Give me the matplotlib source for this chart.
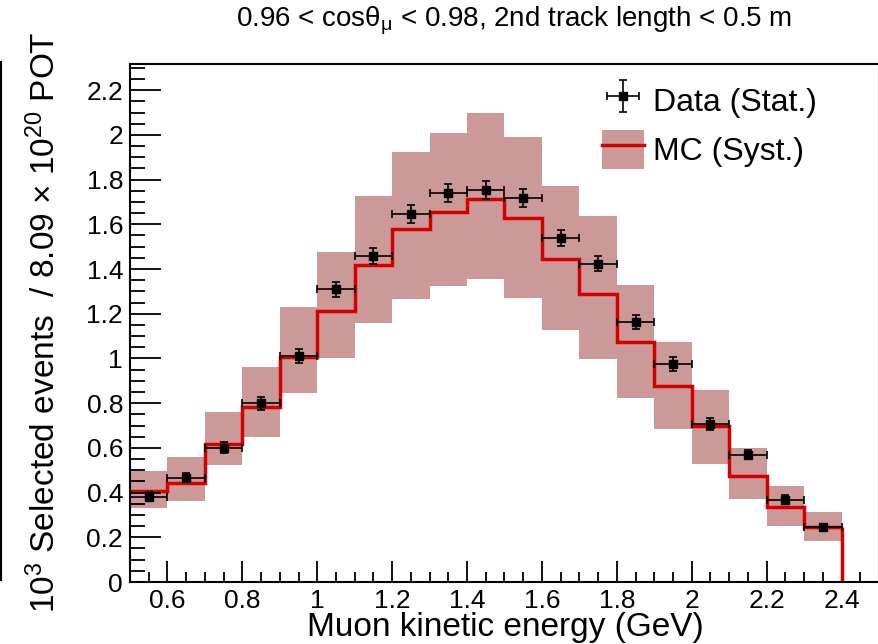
import numpy as np
import matplotlib.pyplot as plt
from matplotlib.ticker import MultipleLocator
from matplotlib.patches import Patch
from matplotlib.lines import Line2D

plt.rcParams['font.family'] = ['Liberation Sans', 'DejaVu Sans']
plt.rcParams['mathtext.fontset'] = 'custom'
plt.rcParams['mathtext.rm'] = 'Liberation Sans'
plt.rcParams['mathtext.it'] = 'Liberation Sans:italic'

# bin edges of muon kinetic energy (GeV)
edges = [0.5, 0.6, 0.7, 0.8, 0.9, 1.0, 1.1, 1.2, 1.3, 1.4, 1.5,
         1.6, 1.7, 1.8, 1.9, 2.0, 2.1, 2.2, 2.3, 2.4]

# MC prediction and systematic band
mc = [0.407, 0.444, 0.617, 0.783, 1.005, 1.21, 1.417, 1.579, 1.653, 1.713,
      1.627, 1.445, 1.290, 1.074, 0.878, 0.699, 0.475, 0.337, 0.247]
mc_hi = [0.498, 0.559, 0.759, 0.962, 1.228, 1.476, 1.726, 1.923, 2.007, 2.096,
         1.989, 1.772, 1.638, 1.327, 1.072, 0.857, 0.599, 0.431, 0.314]
mc_lo = [0.332, 0.361, 0.525, 0.647, 0.844, 1.000, 1.160, 1.268, 1.324, 1.357,
         1.271, 1.127, 0.999, 0.824, 0.686, 0.529, 0.371, 0.250, 0.182]

# data with statistical errors
data = [0.381, 0.466, 0.601, 0.799, 1.011, 1.309, 1.458, 1.645, 1.741, 1.754,
        1.719, 1.540, 1.424, 1.163, 0.976, 0.707, 0.569, 0.367, 0.245]
data_err = [0.02, 0.02, 0.025, 0.03, 0.03, 0.035, 0.035, 0.04, 0.04, 0.04,
            0.04, 0.035, 0.035, 0.03, 0.03, 0.025, 0.02, 0.02, 0.015]

edges = np.array(edges)
centers = 0.5 * (edges[:-1] + edges[1:])
halfw = 0.5 * np.diff(edges)

band_color = '#cc9999'
red = '#d40000'

fig = plt.figure(figsize=(8.79, 6.44), dpi=100)
ax = fig.add_axes([130 / 879, 1 - 582 / 644, 749 / 879, 518 / 644])

ax.stairs(mc_hi, edges, baseline=mc_lo, fill=True, color=band_color, lw=0)
ax.stairs(mc, edges, baseline=None, color=red, lw=2.5)
ax.vlines(edges[-1], 0, mc[-1], color=red, lw=2.5)
eb = ax.errorbar(centers, data, xerr=halfw, yerr=data_err, fmt='s', color='black',
                 ms=6, elinewidth=1.2, capsize=3, capthick=1.2)

ax.set_xlim(0.5, 2.5)
ax.set_ylim(0, 2.317)
ax.xaxis.set_major_locator(MultipleLocator(0.2))
ax.xaxis.set_minor_locator(MultipleLocator(0.05))
ax.yaxis.set_major_locator(MultipleLocator(0.2))
ax.yaxis.set_minor_locator(MultipleLocator(0.05))
ax.xaxis.set_major_formatter(plt.FuncFormatter(lambda v, p: f'{v:g}'))
ax.yaxis.set_major_formatter(plt.FuncFormatter(lambda v, p: f'{v:g}'))
ax.tick_params(which='both', direction='in', labelsize=19, width=1.3)
ax.tick_params(axis='y', which='major', length=22, pad=5)
ax.tick_params(axis='y', which='minor', length=11)
ax.tick_params(axis='x', which='major', length=15, pad=5)
ax.tick_params(axis='x', which='minor', length=7)
for s in ax.spines.values():
    s.set_linewidth(1.5)

fig.text(505 / 879, 1 - 636 / 644, 'Muon kinetic energy (GeV)', fontsize=24,
         ha='center', va='baseline')
fig.text(45 / 879, 1 - 322 / 644,
         r'$10^{3}$ Selected events  / 8.09 $\times$ $10^{20}$ POT',
         rotation=90, fontsize=24, ha='center', va='center')

fig.text(514 / 879, 1 - 21 / 644,
         r'0.96 < cos$\mathrm{\theta}_{\mathrm{\mu}}$ < 0.98, 2nd track length < 0.5 m',
         fontsize=20, ha='center', va='center')

mc_handle = (Patch(facecolor=band_color, edgecolor='none'),
             Line2D([], [], color=red, lw=2.5))
fig.legend([eb, mc_handle], ['Data (Stat.)', 'MC (Syst.)'], loc='upper left',
           bbox_to_anchor=(602 / 879, 1 - 81 / 644), frameon=False, fontsize=23,
           borderpad=0, borderaxespad=0, handlelength=1.3, handleheight=1.5,
           handletextpad=0.3, labelspacing=0.3)

# edge of the neighbouring panel, cut off at the left
fig.add_artist(Line2D([1 / 879, 1 / 879], [1 - 62 / 644, 1 - 580 / 644],
                      color='black', lw=1.5, transform=fig.transFigure))

fig.savefig('out.png', dpi=100)
